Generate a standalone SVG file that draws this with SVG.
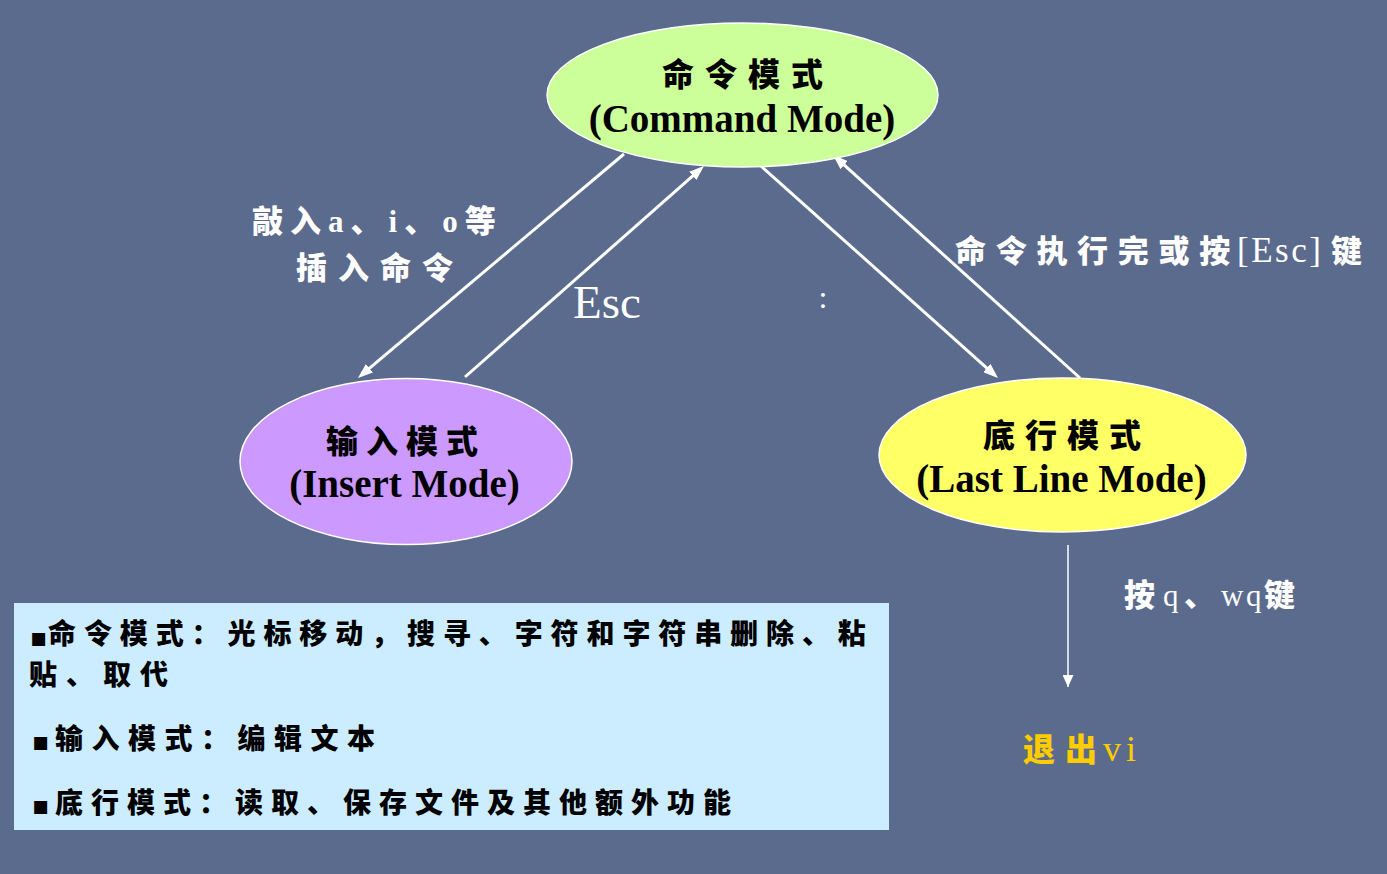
<svg xmlns="http://www.w3.org/2000/svg" width="1387" height="874" viewBox="0 0 1387 874">
<defs>
<style>
.cjk{font-family:"Noto Sans CJK SC","Liberation Serif",sans-serif;font-weight:900;font-size:31px}
.big{font-size:32px}
.en{font-family:"Liberation Serif",serif;font-weight:700}
.ser{font-family:"Liberation Serif",serif;font-weight:400}
.node{stroke:#ffffff;stroke-width:1.5}
.wire{stroke:#ffffff;stroke-width:3;fill:none;marker-end:url(#ah)}
.box{font-family:"Noto Sans CJK SC",sans-serif;font-weight:900;font-size:28px;fill:#000}
.bul{font-family:"DejaVu Sans",sans-serif;font-size:26px;fill:#000}
</style>
<marker id="ah" markerUnits="userSpaceOnUse" markerWidth="15" markerHeight="11" viewBox="0 0 15 11" refX="11" refY="5.5" orient="auto">
<path d="M0,0 L15,5.5 L0,11 z" fill="#ffffff"/>
</marker>
<marker id="ah2" markerUnits="userSpaceOnUse" markerWidth="12" markerHeight="11" viewBox="0 0 12 11" refX="12" refY="5.5" orient="auto">
<path d="M0,0 L12,5.5 L0,11 z" fill="#ffffff"/>
</marker>
</defs>
<rect x="0" y="0" width="1387" height="874" fill="#5B6B8D"/>

<g id="connectors">
<line class="wire" x1="624" y1="154" x2="361" y2="375.4"/>
<line class="wire" x1="465" y1="377" x2="701" y2="168.6"/>
<line class="wire" x1="761" y1="166" x2="995" y2="375.3"/>
<line class="wire" x1="1080" y1="378" x2="836" y2="157.7"/>
<line x1="1068" y1="545" x2="1068" y2="687" stroke="#ffffff" stroke-width="1.5" marker-end="url(#ah2)"/>
</g>

<g id="command-mode">
<ellipse class="node" cx="742.5" cy="95" rx="195.5" ry="72" fill="#CCFF99"/>
<text class="cjk big" x="662" y="86" letter-spacing="11" fill="#000">命令模式</text>
<text class="en" x="742" y="132" font-size="39" text-anchor="middle" fill="#000">(Command Mode)</text>
</g>

<g id="insert-mode">
<ellipse class="node" cx="406" cy="461.5" rx="166" ry="83" fill="#CC99FF"/>
<text class="cjk big" x="326" y="453" letter-spacing="8" fill="#000">输入模式</text>
<text class="en" x="404.5" y="497" font-size="39" text-anchor="middle" fill="#000">(Insert Mode)</text>
</g>

<g id="last-line-mode">
<ellipse class="node" cx="1062.5" cy="455" rx="183.5" ry="77" fill="#FFFF66"/>
<text class="cjk big" x="983" y="447" letter-spacing="10" fill="#000">底行模式</text>
<text class="en" x="1061.5" y="492" font-size="39" text-anchor="middle" fill="#000">(Last Line Mode)</text>
</g>

<g id="label-insert">
<text class="cjk" x="252" y="232" letter-spacing="7" fill="#fff">敲入<tspan class="en">a</tspan>、<tspan class="en">i</tspan>、<tspan class="en">o</tspan>等</text>
<text class="cjk" x="296" y="279" letter-spacing="11" fill="#fff">插入命令</text>
</g>

<g id="label-esc">
<text class="ser" x="573" y="318" font-size="47" fill="#fff">Esc</text>
</g>

<g id="label-colon">
<text class="ser" x="823" y="307.5" font-size="32" text-anchor="middle" fill="#fff">:</text>
</g>

<g id="label-return">
<text class="cjk" y="262" fill="#fff"><tspan x="955" letter-spacing="9.7">命令执行完或按</tspan><tspan class="ser" x="1237" font-size="35" letter-spacing="2.5">[Esc]</tspan><tspan x="1331">键</tspan></text>
</g>

<g id="label-quit">
<text class="cjk" y="606" fill="#fff"><tspan x="1124">按</tspan><tspan class="ser" x="1163">q</tspan><tspan x="1184">、</tspan><tspan class="ser" x="1221">w</tspan><tspan class="ser" x="1246">q</tspan><tspan x="1264">键</tspan></text>
</g>

<g id="exit-vi">
<text class="cjk big" y="761" fill="#FFCC00"><tspan x="1023">退</tspan><tspan x="1065">出</tspan><tspan class="ser" x="1103" font-size="36">v</tspan><tspan class="ser" x="1126" font-size="36">i</tspan></text>
</g>

<g id="legend">
<rect x="14" y="603" width="875" height="227" fill="#CCECFF"/>
<text class="bul" x="30" y="646">▪</text>
<text class="box" x="48" y="644" letter-spacing="7.9">命令模式：光标移动，搜寻、字符和字符串删除、粘</text>
<text class="box" x="29" y="685" letter-spacing="9">贴、取代</text>
<text class="bul" x="32" y="750">▪</text>
<text class="box" x="55" y="749" letter-spacing="8.5">输入模式：编辑文本</text>
<text class="bul" x="32" y="814">▪</text>
<text class="box" x="55" y="813" letter-spacing="8">底行模式：读取、保存文件及其他额外功能</text>
</g>
</svg>
